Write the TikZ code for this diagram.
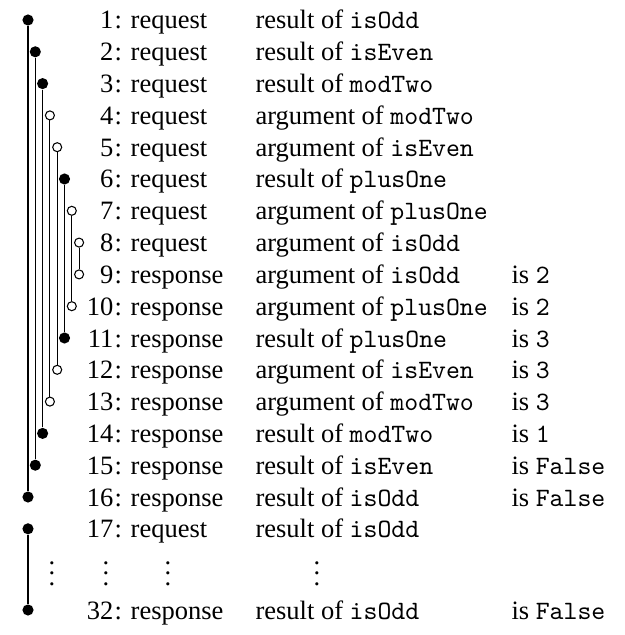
\documentclass[tikz,border=0pt]{standalone}
\usepackage{fontspec}
\setmainfont{Liberation Serif}
\newcommand{\myvdots}{\vbox{\baselineskip4pt\lineskiplimit0pt\hbox{.}\hbox{.}\hbox{.}}}
\tikzset{
  x=0.3774pt, y=-0.3774pt,
  fdot/.style={circle, fill=black, draw=none, inner sep=0pt, minimum size=4.2pt},
  odot/.style={circle, fill=white, draw=black, line width=0.4pt, inner sep=0pt, minimum size=3.4pt},
  num/.style={anchor=base east, inner sep=0pt},
  kind/.style={anchor=base west, inner sep=0pt},
  what/.style={anchor=base west, inner sep=0pt},
  val/.style={anchor=base west, inner sep=0pt},
  ell/.style={anchor=base, inner sep=0pt},
  link/.style={line width=0.4pt},
}
\newcommand{\rowline}[6]{% #1 row id, #2 baseline y, #3 number, #4 kind, #5 col3, #6 col4
  \node[num] (n#1) at (114,#2) {#3};
  \node[kind] (k#1) at (114,#2) {: #4};
  \node[what] (w#1) at (255,#2) {#5};
  \node[val] (v#1) at (511,#2) {#6};
}
\begin{document}
\begin{tikzpicture}
\useasboundingbox (0,0) rectangle (625,635);
% rows
\rowline{1}{29.0}{1}{request}{result of \texttt{isOdd}}{}
\rowline{2}{60.8}{2}{request}{result of \texttt{isEven}}{}
\rowline{3}{92.6}{3}{request}{result of \texttt{modTwo}}{}
\rowline{4}{124.4}{4}{request}{argument of \texttt{modTwo}}{}
\rowline{5}{156.2}{5}{request}{argument of \texttt{isEven}}{}
\rowline{6}{188.0}{6}{request}{result of \texttt{plusOne}}{}
\rowline{7}{219.8}{7}{request}{argument of \texttt{plusOne}}{}
\rowline{8}{251.6}{8}{request}{argument of \texttt{isOdd}}{}
\rowline{9}{283.4}{9}{response}{argument of \texttt{isOdd}}{is \texttt{2}}
\rowline{10}{315.2}{10}{response}{argument of \texttt{plusOne}}{is \texttt{2}}
\rowline{11}{347.0}{11}{response}{result of \texttt{plusOne}}{is \texttt{3}}
\rowline{12}{378.8}{12}{response}{argument of \texttt{isEven}}{is \texttt{3}}
\rowline{13}{410.6}{13}{response}{argument of \texttt{modTwo}}{is \texttt{3}}
\rowline{14}{442.4}{14}{response}{result of \texttt{modTwo}}{is \texttt{1}}
\rowline{15}{474.2}{15}{response}{result of \texttt{isEven}}{is \texttt{False}}
\rowline{16}{506.0}{16}{response}{result of \texttt{isOdd}}{is \texttt{False}}
\rowline{17}{537.8}{17}{request}{result of \texttt{isOdd}}{}
\rowline{32}{619.0}{32}{response}{result of \texttt{isOdd}}{is \texttt{False}}
% vertical ellipses
\node[ell] (e1) at (52,585.5) {\myvdots};
\node[ell] (e2) at (106,585.5) {\myvdots};
\node[ell] (e3) at (168,585.5) {\myvdots};
\node[ell] (e4) at (317,585.5) {\myvdots};
% dots
\node[fdot] (d1)  at (28.0,20.0) {};
\node[fdot] (d2)  at (35.3,51.8) {};
\node[fdot] (d3)  at (42.6,83.6) {};
\node[odot] (d4)  at (49.9,115.4) {};
\node[odot] (d5)  at (57.2,147.2) {};
\node[fdot] (d6)  at (64.5,179.0) {};
\node[odot] (d7)  at (71.8,210.8) {};
\node[odot] (d8)  at (79.1,242.6) {};
\node[odot] (d9)  at (79.1,274.4) {};
\node[odot] (d10) at (71.8,306.2) {};
\node[fdot] (d11) at (64.5,338.0) {};
\node[odot] (d12) at (57.2,369.8) {};
\node[odot] (d13) at (49.9,401.6) {};
\node[fdot] (d14) at (42.6,433.4) {};
\node[fdot] (d15) at (35.3,465.2) {};
\node[fdot] (d16) at (28.0,497.0) {};
\node[fdot] (d17) at (28.0,528.8) {};
\node[fdot] (d32) at (28.0,610.0) {};
% links
\draw[link] (d1) -- (d16);
\draw[link] (d2) -- (d15);
\draw[link] (d3) -- (d14);
\draw[link] (d4) -- (d13);
\draw[link] (d5) -- (d12);
\draw[link] (d6) -- (d11);
\draw[link] (d7) -- (d10);
\draw[link] (d8) -- (d9);
\draw[link] (d17) -- (d32);
\end{tikzpicture}
\end{document}
